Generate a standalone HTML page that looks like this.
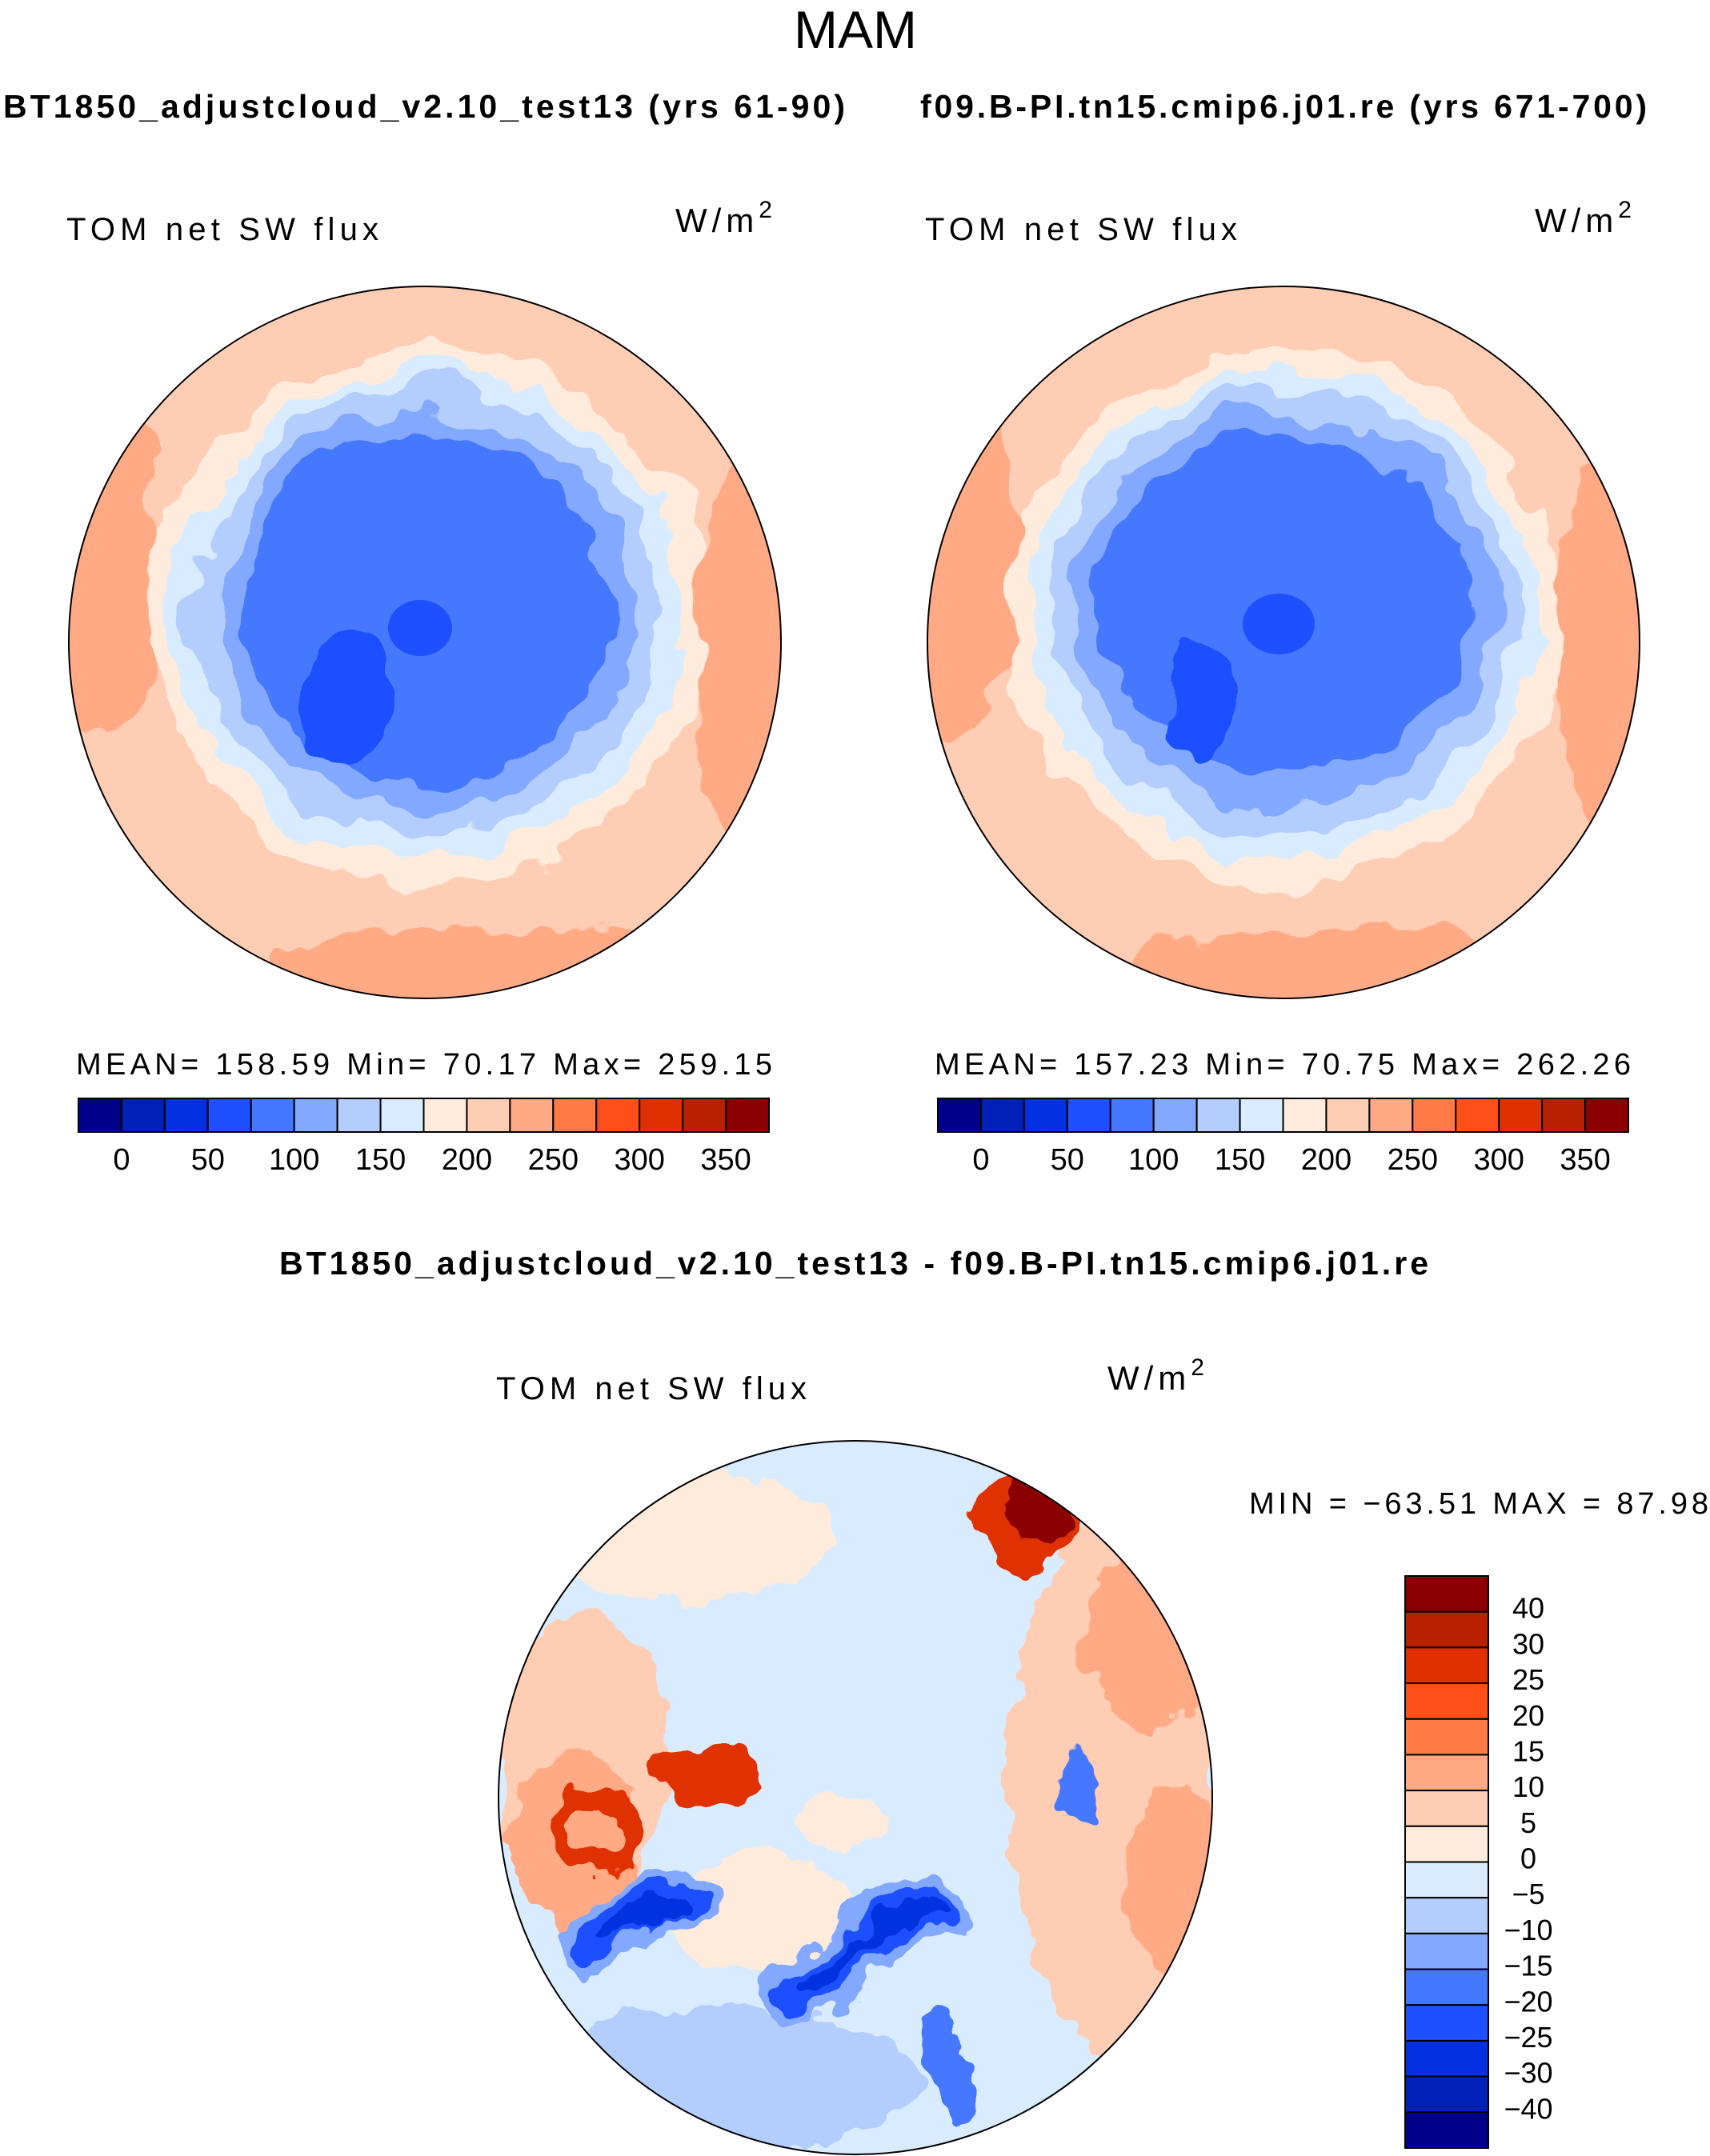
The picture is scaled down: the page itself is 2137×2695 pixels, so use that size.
<!DOCTYPE html>
<html><head><meta charset="utf-8"><style>
html,body{margin:0;padding:0;background:#fff;}
svg{display:block;}
.t{font-family:"Liberation Sans",sans-serif;fill:#000;}
</style></head><body>
<svg id="fig" width="2137" height="2695" viewBox="0 0 2137 2695" xmlns="http://www.w3.org/2000/svg">
<defs>
<filter id="wob" x="-20%" y="-20%" width="140%" height="140%">
<feTurbulence type="fractalNoise" baseFrequency="0.012" numOctaves="3" seed="4"/>
<feDisplacementMap in="SourceGraphic" scale="70" xChannelSelector="R" yChannelSelector="G"/>
</filter>
<filter id="wob2" x="-20%" y="-20%" width="140%" height="140%">
<feTurbulence type="fractalNoise" baseFrequency="0.02" numOctaves="3" seed="9"/>
<feDisplacementMap in="SourceGraphic" scale="50" xChannelSelector="R" yChannelSelector="G"/>
</filter>
<clipPath id="c1"><circle cx="531" cy="803" r="445"/></clipPath>
<clipPath id="c2"><circle cx="1604" cy="803" r="445"/></clipPath>
<clipPath id="c3"><circle cx="1069" cy="2247" r="446"/></clipPath>
</defs>

<text class="t" x="1069" y="60" font-size="66" text-anchor="middle" font-weight="300">MAM</text>
<text class="t" x="4" y="147" font-size="41" font-weight="bold" textLength="1052">BT1850_adjustcloud_v2.10_test13 (yrs 61-90)</text>
<text class="t" x="1150" y="147" font-size="41" font-weight="bold" textLength="908">f09.B-PI.tn15.cmip6.j01.re (yrs 671-700)</text>

<!-- left panel -->
<text class="t" x="83" y="300" font-size="40" textLength="390">TOM  net  SW  flux</text>
<text class="t" x="844" y="290" font-size="42" letter-spacing="6">W/m<tspan font-size="30" dy="-18">2</tspan></text>
<g clip-path="url(#c1)">
<circle cx="531" cy="803" r="445" fill="#FFCCB4"/>
<g filter="url(#wob)">
<ellipse cx="120" cy="700" rx="90" ry="220" fill="#FFAA85"/>
<ellipse cx="950" cy="820" rx="90" ry="260" fill="#FFAA85"/>
<ellipse cx="620" cy="1220" rx="300" ry="60" fill="#FFAA85"/>
<ellipse cx="534" cy="770" rx="345" ry="335" fill="#FFEBDB"/>
<ellipse cx="534" cy="768" rx="318" ry="305" fill="#D8EBFF"/>
<ellipse cx="534" cy="763" rx="292" ry="280" fill="#B4CDFF"/>
<ellipse cx="534" cy="761" rx="262" ry="250" fill="#82A8FF"/>
<ellipse cx="534" cy="758" rx="232" ry="220" fill="#4478FF"/>
<ellipse cx="430" cy="880" rx="55" ry="75" fill="#1E50FF"/>
</g>
<ellipse cx="525" cy="785" rx="40" ry="35" fill="#1E50FF"/>
</g>
<circle cx="531" cy="803" r="445" fill="none" stroke="#000" stroke-width="2"/>
<text class="t" x="95" y="1343" font-size="38" textLength="870">MEAN=  158.59    Min=    70.17    Max=  259.15</text>
<g id="cb1"></g>

<!-- right panel -->
<text class="t" x="1156" y="300" font-size="40" textLength="390">TOM  net  SW  flux</text>
<text class="t" x="1918" y="290" font-size="42" letter-spacing="6">W/m<tspan font-size="30" dy="-18">2</tspan></text>
<g clip-path="url(#c2)">
<circle cx="1604" cy="803" r="445" fill="#FFCCB4"/>
<g filter="url(#wob)">
<ellipse cx="1195" cy="700" rx="90" ry="220" fill="#FFAA85"/>
<ellipse cx="2030" cy="820" rx="90" ry="260" fill="#FFAA85"/>
<ellipse cx="1690" cy="1220" rx="300" ry="60" fill="#FFAA85"/>
<ellipse cx="1607" cy="770" rx="345" ry="335" fill="#FFEBDB"/>
<ellipse cx="1607" cy="768" rx="318" ry="305" fill="#D8EBFF"/>
<ellipse cx="1607" cy="763" rx="292" ry="280" fill="#B4CDFF"/>
<ellipse cx="1607" cy="761" rx="262" ry="250" fill="#82A8FF"/>
<ellipse cx="1607" cy="755" rx="230" ry="215" fill="#4478FF"/>
<ellipse cx="1503" cy="880" rx="55" ry="75" fill="#1E50FF"/>
</g>
<ellipse cx="1598" cy="780" rx="45" ry="38" fill="#1E50FF"/>
</g>
<circle cx="1604" cy="803" r="445" fill="none" stroke="#000" stroke-width="2"/>
<text class="t" x="1168" y="1343" font-size="38" textLength="870">MEAN=  157.23    Min=    70.75    Max=  262.26</text>
<g id="cb2"></g>

<!-- difference panel -->
<text class="t" x="1067" y="1593" font-size="41" font-weight="bold" text-anchor="middle" textLength="1436">BT1850_adjustcloud_v2.10_test13 - f09.B-PI.tn15.cmip6.j01.re</text>
<text class="t" x="620" y="1749" font-size="40" textLength="388">TOM  net  SW  flux</text>
<text class="t" x="1384" y="1737" font-size="42" letter-spacing="6">W/m<tspan font-size="30" dy="-18">2</tspan></text>
<g clip-path="url(#c3)">
<circle cx="1069" cy="2247" r="446" fill="#D8EBFF"/>
<g filter="url(#wob2)">
<ellipse cx="1390" cy="2230" rx="130" ry="330" fill="#FFCCB4"/>
<ellipse cx="1440" cy="2050" rx="90" ry="110" fill="#FFAA85"/>
<ellipse cx="1470" cy="2350" rx="60" ry="120" fill="#FFAA85"/>
<ellipse cx="860" cy="1920" rx="180" ry="80" fill="#FFEBDB"/>
<ellipse cx="730" cy="2200" rx="110" ry="180" fill="#FFCCB4"/>
<ellipse cx="720" cy="2300" rx="80" ry="110" fill="#FFAA85"/>
<ellipse cx="745" cy="2290" rx="60" ry="55" fill="#E03000"/>
<ellipse cx="745" cy="2290" rx="35" ry="30" fill="#FFAA85"/>
<ellipse cx="880" cy="2220" rx="70" ry="40" fill="#E03000"/>
<ellipse cx="1280" cy="1900" rx="70" ry="60" fill="#E03000"/>
<ellipse cx="1300" cy="1890" rx="40" ry="45" fill="#8B0000"/>
<ellipse cx="950" cy="2390" rx="110" ry="80" fill="#FFEBDB"/>
<ellipse cx="1050" cy="2280" rx="50" ry="35" fill="#FFEBDB"/>
<ellipse cx="900" cy="2600" rx="260" ry="90" fill="#B4CDFF"/>
<ellipse cx="1350" cy="2230" rx="25" ry="40" fill="#4478FF"/>
</g>
<g filter="url(#wob2)" fill="none" stroke-linecap="round">
<path d="M740 2430 Q800 2360 860 2380 M990 2490 Q1060 2470 1080 2420 Q1110 2380 1180 2390" stroke="#82A8FF" stroke-width="75"/>
<path d="M740 2430 Q800 2360 860 2380 M990 2490 Q1060 2470 1080 2420 Q1110 2380 1180 2390" stroke="#1E50FF" stroke-width="45"/>
<path d="M760 2420 Q800 2380 850 2385 M1000 2485 Q1060 2465 1080 2420 Q1110 2385 1180 2390" stroke="#0030E0" stroke-width="20"/>
<path d="M1170 2530 Q1190 2580 1200 2640" stroke="#4478FF" stroke-width="40"/>
</g>
</g>
<circle cx="1069" cy="2247" r="446" fill="none" stroke="#000" stroke-width="2"/>
<text class="t" x="1561" y="1892" font-size="38" textLength="574">MIN  =  −63.51  MAX  =    87.98</text>
<g id="cb3"></g>
</svg>
<script>
const absColors = ["#00008B","#0020B8","#0030E0","#1E50FF","#4478FF","#82A8FF","#B4CDFF","#D8EBFF","#FFEBDB","#FFCCB4","#FFAA85","#FF7A45","#FF501A","#E03000","#B82000","#8B0000"];
const absLevels = [0,25,50,75,100,125,150,175,200,225,250,275,300,325,350];
const absTickLabels = ["0","50","100","150","200","250","300","350"];
const diffColors = ["#8B0000","#B82000","#E03000","#FF501A","#FF7A45","#FFAA85","#FFCCB4","#FFEBDB","#D8EBFF","#B4CDFF","#82A8FF","#4478FF","#1E50FF","#0030E0","#0020B8","#00008B"];
const diffLevels = [40,30,25,20,15,10,5,0,-5,-10,-15,-20,-25,-30,-40];
const NS="http://www.w3.org/2000/svg";
function mk(tag,attrs){const e=document.createElementNS(NS,tag);for(const k in attrs)e.setAttribute(k,attrs[k]);return e;}
function hbar(id,x0,x1,y0,y1){
  const g=document.getElementById(id);const n=absColors.length;const w=(x1-x0)/n;
  absColors.forEach((c,i)=>{const r=mk('rect',{x:x0+i*w,y:y0,width:w,height:y1-y0,fill:c,stroke:'#000','stroke-width':2});
    
    
    g.appendChild(r);});
  absLevels.forEach((v,i)=>{const lab=absTickLabels.indexOf(String(v));if(lab<0)return;
    const t=mk('text',{x:x0+(i+1)*w,y:y1+47,'font-size':38,'text-anchor':'middle','class':'t'});t.textContent=absTickLabels[lab];
    
    
    g.appendChild(t);});
}
hbar('cb1',98,961,1373,1415);
hbar('cb2',1172,2035,1373,1415);
(function(){
  const g=document.getElementById('cb3');const x0=1756,x1=1860,y0=1970,y1=2685;const n=diffColors.length;const h=(y1-y0)/n;
  diffColors.forEach((c,i)=>{const r=mk('rect',{x:x0,y:y0+i*h,width:x1-x0,height:h,fill:c,stroke:'#000','stroke-width':2});
    
    
    g.appendChild(r);});
  diffLevels.forEach((v,i)=>{const t=mk('text',{x:1910,y:y0+(i+1)*h+8,'font-size':36,'text-anchor':'middle','class':'t'});
    t.textContent=(v<0?'−':'')+Math.abs(v);
    
    
    g.appendChild(t);});
})();
</script>
</body></html>
